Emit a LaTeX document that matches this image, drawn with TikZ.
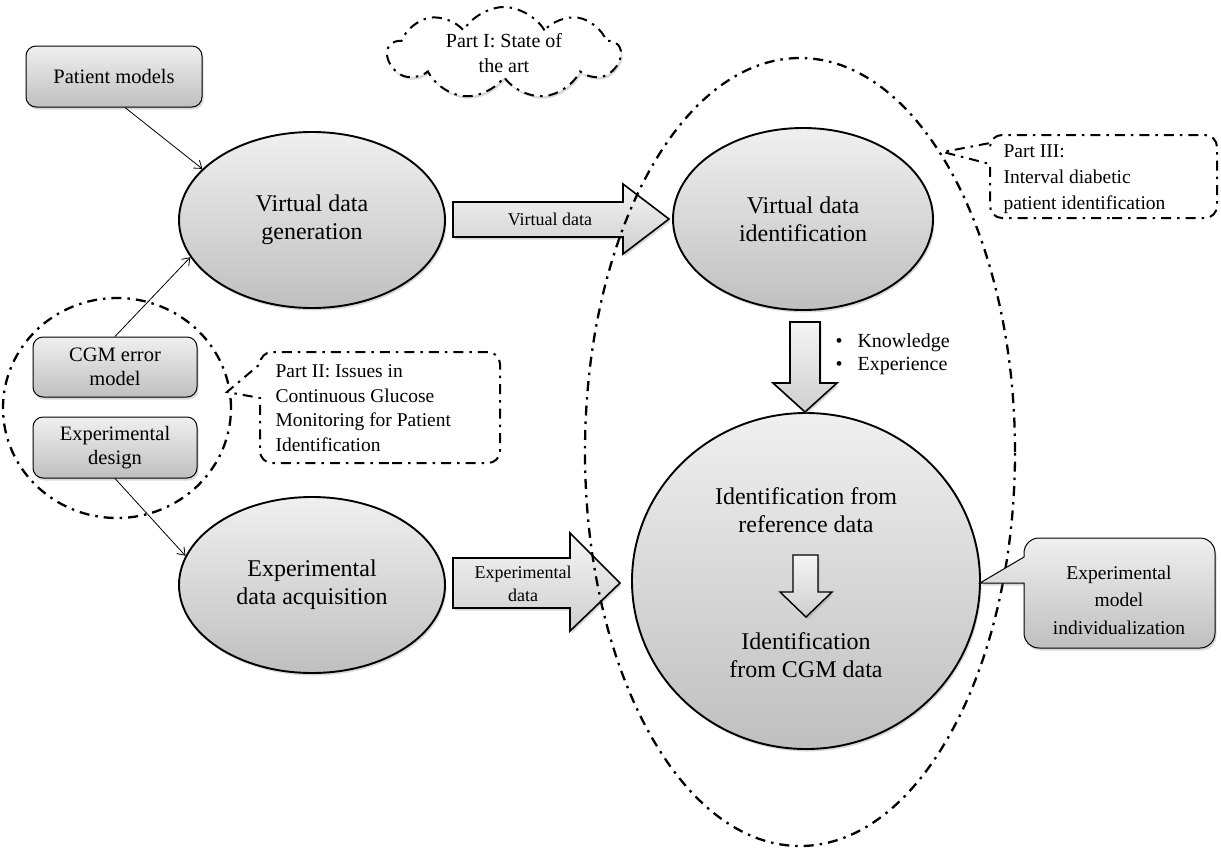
\documentclass[tikz,border=0pt]{standalone}
\usepackage{fontspec}
\setmainfont{Liberation Serif}
\usetikzlibrary{shapes.geometric,shapes.symbols,shadows,arrows.meta}
\begin{document}
\begin{tikzpicture}[x=1pt,y=-1pt,
  dd/.style={line width=2.3pt, dash pattern=on 10pt off 6pt on 2.5pt off 6pt},
  grad/.style={top color=gray!12, bottom color=gray!50},
  shd/.style={drop shadow={shadow xshift=1.5pt,shadow yshift=-2.5pt,opacity=.3}},
  bubble/.style={ellipse, draw, line width=1.9pt, grad, shd, inner sep=0pt, align=center, font=\fontsize{24}{28}\selectfont},
  boxn/.style={rectangle, rounded corners=10pt, draw, line width=1pt, grad, shd, align=center, inner sep=0pt, font=\fontsize{20.5}{24}\selectfont},
  blockarrow/.style={draw, line width=1.6pt, top color=gray!8, bottom color=gray!38, shd},
  conn/.style={line width=0.8pt, -{Straight Barb[length=7pt,width=10pt]}},
  smalltxt/.style={font=\fontsize{18}{23}\selectfont, align=center},
  midtxt/.style={font=\fontsize{19.5}{25}\selectfont, align=left},
  bigtxt/.style={font=\fontsize{24}{28}\selectfont, align=center}
]
\useasboundingbox (0,0) rectangle (1221,863);

% cloud
\node[cloud, cloud puffs=9, cloud puff arc=120, aspect=2.6, draw, dd, line width=2pt, fill=white, shd,
      minimum width=232pt, minimum height=92pt, inner sep=0pt, align=center,
      font=\fontsize{20}{25}\selectfont] (p1) at (504,53) {Part I: State of\\the art};

% left boxes
\node[boxn, minimum width=176pt, minimum height=61pt] (pm) at (114,76.5) {Patient models};
\node[boxn, minimum width=164pt, minimum height=60pt] (cgm) at (115,367) {CGM error\\model};
\node[boxn, minimum width=164pt, minimum height=61pt] (ed) at (115,447.5) {Experimental\\design};

% ellipses
\node[bubble, minimum width=266pt, minimum height=176pt] (vdg) at (312,220) {Virtual data\\generation};
\node[bubble, minimum width=266pt, minimum height=176pt] (eda) at (312,585) {Experimental\\data acquisition};
\node[bubble, minimum width=260pt, minimum height=182pt] (vdi) at (803,219) {Virtual data\\identification};
\node[bubble, minimum width=348pt, minimum height=336pt] (ifr) at (806,581) {};
\node[bigtxt] (t1) at (806,510) {Identification from\\reference data};
\node[bigtxt] (t2) at (806,655) {Identification\\from CGM data};

% thin connectors
\draw[conn] ([xshift=11pt]pm.south) -- (vdg.155);
\draw[conn] (cgm.north) -- (vdg.197);
\draw[conn] (ed.south) -- (eda.167);

% block arrows
\draw[blockarrow] (453,202) -- (623,202) -- (623,184) -- (669,219) -- (623,254) -- (623,237) -- (453,237) -- cycle;
\node[smalltxt] (vdl) at (550,219) {Virtual data};
\draw[blockarrow] (453,558) -- (570,558) -- (570,533) -- (620,583) -- (570,631) -- (570,608) -- (453,608) -- cycle;
\node[smalltxt] (edl) at (523,584) {Experimental\\data};
\draw[blockarrow] (790,322) -- (820,322) -- (820,383) -- (837,383) -- (805,412) -- (773,383) -- (790,383) -- cycle;
\draw[blockarrow, line width=1.4pt] (793,555) -- (818,555) -- (818,592) -- (832,592) -- (806,617) -- (780,592) -- (793,592) -- cycle;

% bullets
\node[anchor=west, align=left, font=\fontsize{20}{23.5}\selectfont] (kn) at (832,354)
  {\textbullet\hspace{15pt}Knowledge\\\textbullet\hspace{15pt}Experience};

% group circle
\node[draw, dd, ellipse, minimum width=228pt, minimum height=220pt, inner sep=0pt] (grp) at (117,408) {};
% outer ellipse
\node[draw, dd, ellipse, minimum width=430pt, minimum height=788pt, inner sep=0pt] (outer) at (800,452) {};

% Part II callout
\draw[dd, line width=2pt, fill=white] (380,463) [rounded corners=12pt] -- (500,463) -- (500,352) -- (260,352)
  [sharp corners] -- (260,364) -- (227,392) -- (260,398) [rounded corners=12pt] -- (260,463) -- cycle;
\node[midtxt, anchor=west, font=\fontsize{19.5}{24.5}\selectfont] (p2) at (272,408)
  {Part II: Issues in\\Continuous Glucose\\Monitoring for Patient\\Identification};

% Part III callout
\draw[dd, line width=2pt, fill=white] (1100,218) [rounded corners=12pt] -- (1217,218) -- (1217,135) -- (990,135)
  [sharp corners] -- (990,143) -- (943,152) -- (990,164) [rounded corners=12pt] -- (990,218) -- cycle;
\node[midtxt, anchor=west, font=\fontsize{19.5}{26}\selectfont] (p3) at (1000,179)
  {Part III:\\Interval diabetic\\patient identification};

% Experimental model individualization callout
\draw[line width=1pt, grad, shd] (1120,648) [rounded corners=15pt] -- (1215,648) -- (1215,538) -- (1024,538)
  [sharp corners] -- (1024,557) -- (980,583) -- (1024,583) [rounded corners=15pt] -- (1024,648) -- cycle;
\node[align=center, font=\fontsize{19.5}{27.5}\selectfont] (emi) at (1119,600)
  {Experimental\\model\\individualization};
\end{tikzpicture}
\end{document}
